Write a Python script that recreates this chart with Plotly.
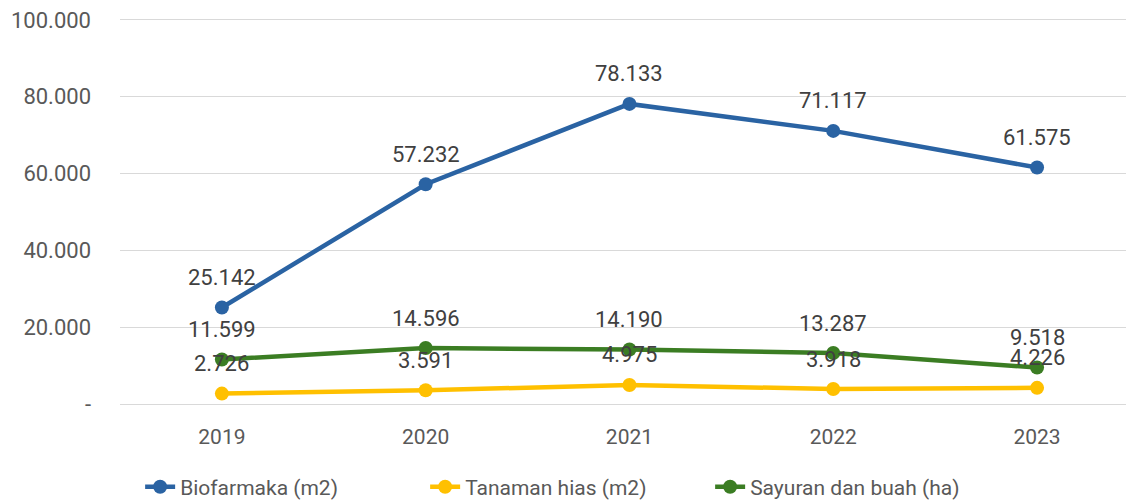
import plotly.graph_objects as go

years = ["2019", "2020", "2021", "2022", "2023"]
biofarmaka = [25142, 57232, 78133, 71117, 61575]
tanaman_hias = [2726, 3591, 4975, 3918, 4226]
sayuran_buah = [11599, 14596, 14190, 13287, 9518]

series = [
    ("Biofarmaka (m2)", biofarmaka, "#2A63A3"),
    ("Tanaman hias (m2)", tanaman_hias, "#FFC000"),
    ("Sayuran dan buah (ha)", sayuran_buah, "#3B7D23"),
]

ytickvals = [0, 20000, 40000, 60000, 80000, 100000]
yticktext = ["-", "20.000", "40.000", "60.000", "80.000", "100.000"]

FONT = "Roboto, Arial, sans-serif"


def fmt(v):
    return f"{v:,}".replace(",", ".")


fig = go.Figure()
annotations = []
for name, vals, color in series:
    fig.add_trace(go.Scatter(
        x=list(range(len(years))), y=vals, name=name,
        mode="lines+markers",
        line=dict(color=color, width=4.5),
        marker=dict(color=color, size=14),
    ))
    for i, v in enumerate(vals):
        annotations.append(dict(
            x=i, y=v, xref="x", yref="y", text=fmt(v), showarrow=False,
            yshift=30, font=dict(family=FONT, size=22, color="#404040"),
        ))

fig.update_layout(
    width=1134, height=501,
    margin=dict(l=112, r=0, t=10, b=103, autoexpand=False),
    paper_bgcolor="white", plot_bgcolor="white",
    font=dict(family=FONT, size=21, color="#595959"),
    annotations=annotations,
    showlegend=True,
    legend=dict(orientation="h", x=0.438, xanchor="center", y=-0.209, yanchor="middle",
                font=dict(family=FONT, size=21, color="#595959"),
                entrywidth=240, entrywidthmode="pixels",
                traceorder="normal", tracegroupgap=0),
)
fig.update_xaxes(
    tickvals=list(range(len(years))), ticktext=years,
    range=[-0.5, 4.515], showgrid=False, zeroline=False, automargin=False,
    showline=False, ticks="", ticklabelstandoff=16,
    tickfont=dict(family=FONT, size=21, color="#595959"),
)
fig.update_yaxes(
    range=[-500, 100500], tickvals=ytickvals, ticktext=yticktext, automargin=False,
    showgrid=True, gridcolor="#D9D9D9", gridwidth=1.3, zeroline=False,
    showline=False, ticks="", ticklabelstandoff=28, ticklabeloverflow="allow",
    tickfont=dict(family=FONT, size=22, color="#595959"),
)

fig.write_html("out.html")
